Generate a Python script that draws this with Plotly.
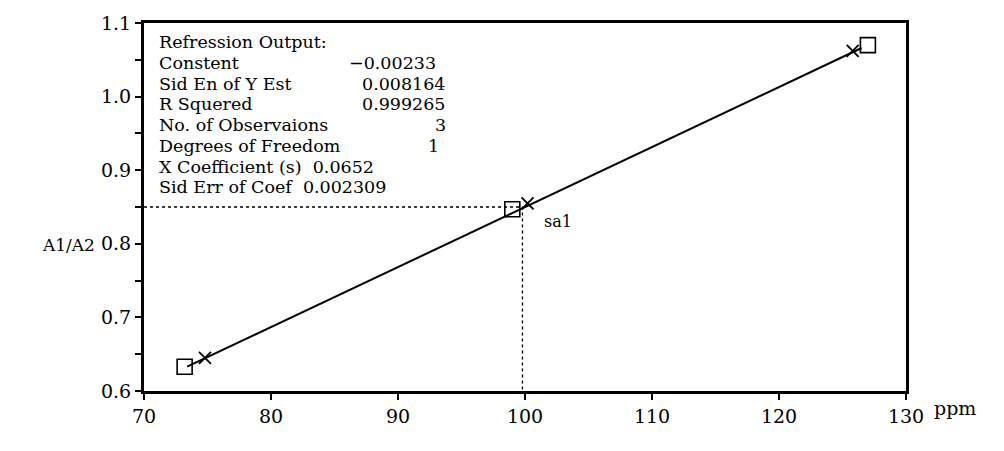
import plotly.graph_objects as go

# ---- data ----
square_x = [73.2, 99.0, 127.0]
square_y = [0.633, 0.847, 1.070]
cross_x = [74.8, 100.2, 125.8]
cross_y = [0.645, 0.855, 1.062]
fit_x = [73.4, 126.5]
fit_y = [0.633, 1.066]
read_x = 99.8
read_y = 0.850
sample_label = "sa1"

stat_names = ["Constent", "Sid En of Y Est", "R Squered", "No. of Observaions", "Degrees of Freedom"]
stat_values = ["\u22120.00233", "0.008164", "0.999265", "3", "1"]
inline_rows = ["X Coefficient (s)  0.0652", "Sid Err of Coef  0.002309"]
box_title = "Refression Output:"

x_ticks = [70, 80, 90, 100, 110, 120, 130]
y_ticks = [0.6, 0.65, 0.7, 0.75, 0.8, 0.85, 0.9, 0.95, 1.0, 1.05, 1.1]
y_labels = ["0.6", "", "0.7", "", "0.8", "", "0.9", "", "1.0", "", "1.1"]

W, H = 1004, 451
L, R, T, B = 144, 98, 12, 60
FONT = "DejaVu Serif"
FS = 19
BOX_FS = 17.5

def px(xp):
    return (xp - L) / (W - L - R)

def py(yp):
    return 1 - (yp - T) / (H - T - B)

fig = go.Figure()

# dotted read-off lines
fig.add_trace(go.Scatter(x=[70, read_x, read_x], y=[read_y, read_y, 0.6], mode="lines",
                         line=dict(color="black", width=1.3, dash="dot"), hoverinfo="skip"))
# fit line
fig.add_trace(go.Scatter(x=fit_x, y=fit_y, mode="lines", line=dict(color="black", width=2)))
# squares
fig.add_trace(go.Scatter(x=square_x, y=square_y, mode="markers",
                         marker=dict(symbol="square-open", size=15, color="black", line=dict(width=1.6))))
# crosses
fig.add_trace(go.Scatter(x=cross_x, y=cross_y, mode="markers",
                         marker=dict(symbol="x-thin-open", size=12, color="black", line=dict(width=1.8, color="black"))))

ann = []
row_y = [32, 53.3, 74.6, 95.9, 117.2, 138.5, 159.8, 181.1]
ann.append(dict(x=px(157), y=py(row_y[0]), text=box_title, xanchor="left", yanchor="middle"))
value_right = [438, 448, 448, 448, 441]
for i, (n, v) in enumerate(zip(stat_names, stat_values)):
    ann.append(dict(x=px(157), y=py(row_y[i + 1]), text=n, xanchor="left", yanchor="middle"))
    ann.append(dict(x=px(value_right[i]), y=py(row_y[i + 1]), text=v, xanchor="right", yanchor="middle"))
for j, t in enumerate(inline_rows):
    ann.append(dict(x=px(157), y=py(row_y[6 + j]), text=t, xanchor="left", yanchor="middle"))
for a in ann:
    a.update(xref="paper", yref="paper", showarrow=False, font=dict(family=FONT, size=BOX_FS, color="black"))

ann.append(dict(x=read_x + 1.5, y=read_y - 0.02, xref="x", yref="y", text=sample_label, showarrow=False,
                xanchor="left", yanchor="middle", font=dict(family=FONT, size=16, color="black")))
ann.append(dict(x=px(68), y=py(241), xref="paper", yref="paper", text="A1/A2", showarrow=False,
                xanchor="center", yanchor="middle", font=dict(family=FONT, size=17, color="black")))
ann.append(dict(x=px(955), y=py(409), xref="paper", yref="paper", text="ppm", showarrow=False,
                xanchor="center", yanchor="middle", font=dict(family=FONT, size=FS, color="black")))

fig.update_layout(
    width=W, height=H, margin=dict(l=L, r=R, t=T, b=B),
    paper_bgcolor="white", plot_bgcolor="white", showlegend=False,
    annotations=ann,
    font=dict(family=FONT, size=FS, color="black"),
)
fig.update_xaxes(range=[70, 130], tickvals=x_ticks, ticktext=[str(v) for v in x_ticks],
                 showgrid=False, zeroline=False, showline=True, linewidth=3, linecolor="black",
                 mirror=True, ticks="outside", ticklen=6, tickwidth=2, tickcolor="black",
                 tickfont=dict(family=FONT, size=FS, color="black"))
fig.update_yaxes(range=[0.6, 1.1], tickvals=y_ticks, ticktext=y_labels,
                 showgrid=False, zeroline=False, showline=True, linewidth=3, linecolor="black",
                 mirror=True, ticks="outside", ticklen=6, tickwidth=2, tickcolor="black",
                 tickfont=dict(family=FONT, size=FS, color="black"))

fig.write_html("out.html")
